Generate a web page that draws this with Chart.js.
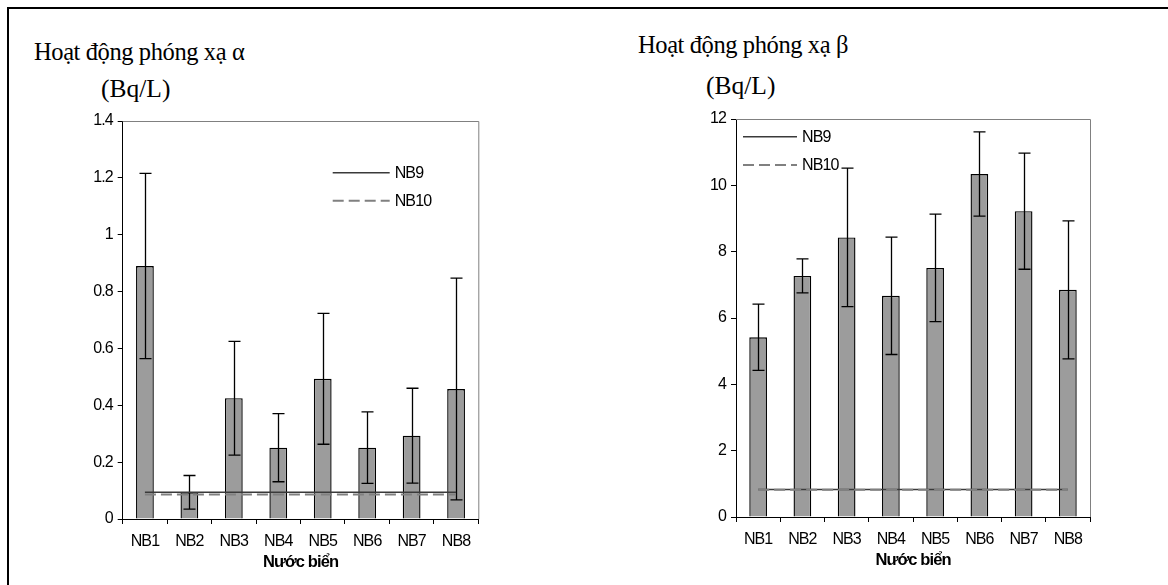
<!DOCTYPE html>
<html>
<head>
<meta charset="utf-8">
<script src="https://cdn.jsdelivr.net/npm/chart.js@4/dist/chart.umd.min.js"></script>
<style>
  html, body { margin:0; padding:0; background:#fff; }
  body { width:1168px; height:585px; position:relative; overflow:hidden; }
  #frame { position:absolute; left:7px; top:7px; right:-5px; bottom:-5px; border-top:2px solid #000; border-left:2px solid #000; }
  .t { position:absolute; font-family:'Liberation Serif','Times New Roman',serif; line-height:1; color:#000; white-space:nowrap; }
  .l1 { font-size:24.5px; letter-spacing:-0.4px; }
  .l2 { font-size:25.5px; }
  canvas { position:absolute; }
</style>
</head>
<body>
<div id="frame"></div>
<div class="t l1" style="left:34px;top:39.5px">Hoạt động phóng xạ α</div>
<div class="t l2" style="left:101px;top:76px">(Bq/L)</div>
<div class="t l1" style="left:638px;top:33px">Hoạt động phóng xạ β</div>
<div class="t l2" style="left:706px;top:73px">(Bq/L)</div>
<canvas id="c1" width="470" height="485" style="left:30px;top:100px"></canvas>
<canvas id="c2" width="470" height="485" style="left:650px;top:100px"></canvas>
<script>
// ---- data ----
const categories = ['NB1','NB2','NB3','NB4','NB5','NB6','NB7','NB8'];
const xTitle = 'Nước biển';

const alphaValues = [0.89, 0.094, 0.425, 0.251, 0.493, 0.251, 0.293, 0.457];
const alphaErrors = [0.326, 0.059, 0.20, 0.12, 0.23, 0.126, 0.167, 0.39];
const nb9Alpha  = [0.094, 0.094, 0.094, 0.094, 0.094, 0.094, 0.094, 0.094];
const nb10Alpha = [0.086, 0.086, 0.086, 0.086, 0.086, 0.086, 0.086, 0.086];
const alphaTickLabels = ['0','0.2','0.4','0.6','0.8','1','1.2','1.4'];

const betaValues = [5.42, 7.27, 8.43, 6.67, 7.51, 10.34, 9.22, 6.85];
const betaErrors = [1.0, 0.51, 2.09, 1.77, 1.62, 1.27, 1.75, 2.08];
const nb9Beta  = [0.83, 0.83, 0.83, 0.83, 0.83, 0.83, 0.83, 0.83];
const nb10Beta = [0.82, 0.82, 0.82, 0.82, 0.82, 0.82, 0.82, 0.82];
const betaTickLabels = ['0','2','4','6','8','10','12'];

// ---- plugins ----
Chart.defaults.font.family = "'Liberation Sans', Arial, sans-serif";
Chart.defaults.font.size = 16;
Chart.defaults.color = '#000';

const spacingPlugin = {
  id: 'spacing',
  beforeDraw(chart) { chart.ctx.letterSpacing = '-0.9px'; },
  beforeDatasetsDraw(chart) {
    chart.ctx.letterSpacing = '0px';
    const {ctx, chartArea: a} = chart;
    ctx.save();
    ctx.strokeStyle = '#808080';
    ctx.lineWidth = 1;
    ctx.beginPath();
    ctx.moveTo(a.left, a.top + 0.5);
    ctx.lineTo(a.right + 0.5, a.top + 0.5);
    ctx.lineTo(a.right + 0.5, a.bottom);
    ctx.stroke();
    ctx.restore();
  }
};

const errorBarPlugin = {
  id: 'errorBars',
  afterDatasetDraw(chart, args) {
    if (args.meta.type !== 'bar') return;
    const ds = chart.data.datasets[args.index];
    const y = chart.scales.y;
    const ctx = chart.ctx;
    ctx.save();
    ctx.strokeStyle = '#000';
    ctx.lineWidth = 1.3;
    args.meta.data.forEach((el, i) => {
      const v = ds.data[i], e = ds.errors[i];
      const yt = y.getPixelForValue(v + e), yb = y.getPixelForValue(v - e);
      const x = Math.round(el.x) + 0.5;
      ctx.beginPath();
      ctx.moveTo(x, yt); ctx.lineTo(x, yb);
      ctx.moveTo(x - 6, yt); ctx.lineTo(x + 6, yt);
      ctx.moveTo(x - 6, yb); ctx.lineTo(x + 6, yb);
      ctx.stroke();
    });
    ctx.restore();
  }
};

const refLegendPlugin = {
  id: 'refLegend',
  afterDraw(chart, args, opts) {
    const {ctx, chartArea: a} = chart;
    const items = chart.data.datasets.filter(d => d.type === 'line');
    ctx.save();
    ctx.letterSpacing = '-0.9px';
    ctx.font = "16px 'Liberation Sans', Arial, sans-serif";
    ctx.textBaseline = 'middle';
    ctx.fillStyle = '#000';
    items.forEach((d, i) => {
      const x0 = a.left + opts.dx;
      const yy = a.top + opts.dy + i * opts.gap;
      ctx.strokeStyle = d.borderColor;
      ctx.lineWidth = d.borderWidth;
      ctx.setLineDash(d.borderDash || []);
      ctx.beginPath();
      ctx.moveTo(x0, yy); ctx.lineTo(x0 + opts.len, yy);
      ctx.stroke();
      ctx.setLineDash([]);
      ctx.fillText(d.label, x0 + opts.len + 5, yy + 1);
    });
    ctx.restore();
  }
};

function makeChart(id, vals, errs, nb9, nb10, yMax, yStep, tickLabels, yWidth, pad, legendOpts, titlePadBottom) {
  return new Chart(document.getElementById(id), {
    data: {
      labels: categories,
      datasets: [
        { type: 'bar', label: 'value', data: vals, errors: errs,
          backgroundColor: '#9c9c9c', borderColor: '#000', borderWidth: 1.4,
          barPercentage: 0.4, categoryPercentage: 1, order: 3 },
        { type: 'line', label: 'NB9', data: nb9, borderColor: '#3a3a3a', borderWidth: 1.5,
          pointRadius: 0, fill: false, order: 2 },
        { type: 'line', label: 'NB10', data: nb10, borderColor: '#808080', borderWidth: 2,
          borderDash: [11, 5], pointRadius: 0, fill: false, order: 1 }
      ]
    },
    options: {
      responsive: false,
      animation: false,
      layout: { padding: pad },
      plugins: { legend: { display: false }, tooltip: { enabled: false }, refLegend: legendOpts },
      scales: {
        x: {
          offset: true,
          grid: { offset: true, drawOnChartArea: false, drawTicks: true, tickLength: 5, color: '#000' },
          border: { color: '#000', width: 1 },
          ticks: { padding: 8, color: '#000', maxRotation: 0, autoSkip: false, font: { size: 16 } },
          title: { display: true, text: xTitle, color: '#000', font: { size: 16.5, weight: 'bold' },
                   padding: { top: 0, bottom: titlePadBottom } },
          afterFit(s) { s.height = 60; }
        },
        y: {
          z: 1,
          min: 0, max: yMax,
          grid: { drawOnChartArea: false, drawTicks: true, tickLength: 5, color: '#000' },
          border: { color: '#000', width: 1 },
          ticks: { stepSize: yStep, padding: 5, color: '#000', font: { size: 16 },
                   callback: (v, i) => tickLabels[i] },
          afterFit(s) { s.width = yWidth; }
        }
      }
    },
    plugins: [spacingPlugin, errorBarPlugin, refLegendPlugin]
  });
}

makeChart('c1', alphaValues, alphaErrors, nb9Alpha, nb10Alpha, 1.4, 0.2, alphaTickLabels, 92.7,
  { left: 0, top: 21, right: 21.7, bottom: 6 }, { dx: 210, dy: 51.7, gap: 28, len: 57 }, 7);
makeChart('c2', betaValues, betaErrors, nb9Beta, nb10Beta, 12, 2, betaTickLabels, 86,
  { left: 0, top: 19, right: 30, bottom: 8 }, { dx: 7, dy: 17.7, gap: 28.3, len: 54 }, 6.4);
</script>
</body>
</html>
